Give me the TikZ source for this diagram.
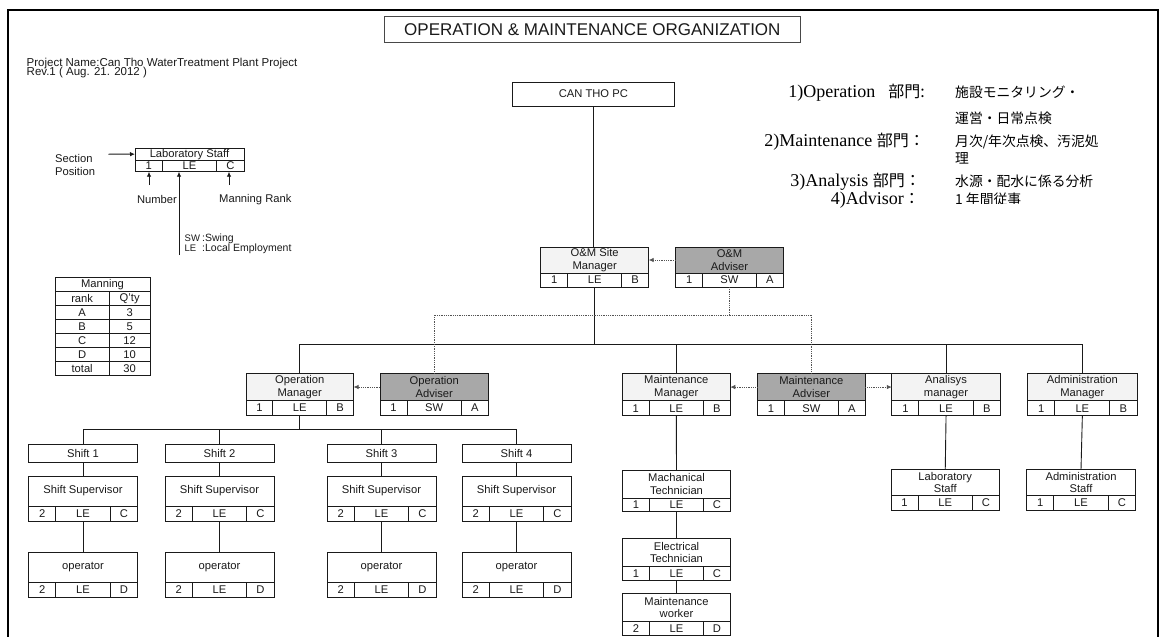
\documentclass[tikz,border=0pt]{standalone}
\usepackage{fontspec}
\setmainfont{Liberation Sans}
\newfontfamily\jpfont{Noto Sans CJK JP}
\newfontfamily\romfont{Liberation Serif}
\usetikzlibrary{arrows.meta}

\definecolor{ink}{HTML}{1A1A1A}
\definecolor{pale}{HTML}{F3F3F3}
\definecolor{advgray}{HTML}{A8A8A8}

\tikzset{
  box/.style={draw=ink, line width=1pt, inner sep=0pt, outer sep=0pt,
    text=ink, font=\fontsize{11.2}{12.5}\selectfont, align=center},
  titlecell/.style={box, anchor=north west},
  rowcell/.style={box, anchor=north west, fill=white},
  plainfill/.style={fill=pale},
  whitefill/.style={fill=white},
  advfill/.style={fill=advgray},
  link/.style={draw=ink, line width=0.9pt},
  adv/.style={draw=ink!75, line width=0.8pt, densely dotted},
  advarrow/.style={adv, -{Latex[length=5pt,width=4.5pt]}},
  legarrow/.style={link, -{Latex[length=5pt,width=4.5pt]}},
  lbl/.style={text=ink, inner sep=0pt, font=\fontsize{11.2}{12}\selectfont},
  jplbl/.style={text=black, inner sep=0pt},
}

% staff box: title part above a row of three cells (number | type | rank)
% #1 name, #2 north-west corner, #3 width, #4 title height,
% #5 fill style, #6 title, #7 number, #8 type, #9 rank
\def\rowh{15}
\newcommand\staffbox[9]{%
  \node[titlecell, #5, minimum width=#3, minimum height=#4] (#1) at #2 {#6};
  \node[rowcell, minimum width=#3/4, minimum height=\rowh] (#1-n) at (#1.south west) {#7};
  \node[rowcell, minimum width=#3/2, minimum height=\rowh] (#1-t) at (#1-n.north east) {#8};
  \node[rowcell, minimum width=#3/4, minimum height=\rowh] (#1-r) at (#1-t.north east) {#9};
}

\begin{document}
\begin{tikzpicture}[x=1pt, y=-1pt]
\useasboundingbox (0,0) rectangle (1162,637);
\fill[white] (0,0) rectangle (1162,637);

% outer frame
\draw[line width=2pt, black] (8,645) -- (8,10) -- (1158,10) -- (1158,645);

% heading
\node[box, anchor=north west, draw=ink!80, minimum width=416.7, minimum height=26.7,
  font=\fontsize{17}{17}\selectfont] (title) at (384,16)
  {OPERATION \& MAINTENANCE ORGANIZATION};

\node[lbl, anchor=base west, font=\fontsize{11.5}{12}\selectfont] (proj) at (26.5,66) {Project Name:Can Tho WaterTreatment Plant Project};
\node[lbl, anchor=base west, font=\fontsize{11.5}{12}\selectfont] (rev) at (26.5,75.5) {Rev.1 ( Aug. 21. 2012 )};

% notes on the sections
\newcommand\secname[2]{{\fontsize{18}{18}\romfont #1\jpfont\fontsize{16}{16}\selectfont #2}}
\node[jplbl, anchor=base east] (n1) at (925,97) {\secname{1)Operation\hspace{13pt}}{部門:}};
\node[jplbl, anchor=base east] (n2) at (925,146) {\secname{2)Maintenance }{部門：}};
\node[jplbl, anchor=base east] (n3) at (921,186) {\secname{3)Analysis }{部門：}};
\node[jplbl, anchor=base east] (n4) at (920,204) {\secname{4)Advisor}{：}};
\begin{scope}[every node/.style={jplbl, anchor=base west, font=\jpfont\fontsize{13.8}{14}\selectfont}]
\node (d1a) at (955,97) {施設モニタリング・};
\node (d1b) at (955,123.5) {運営・日常点検};
\node (d2a) at (955,146) {月次/年次点検、汚泥処};
\node (d2b) at (955,163) {理};
\node (d3) at (955,186) {水源・配水に係る分析};
\end{scope}
\begin{scope}
\clip (940,185) rectangle (1160,203.5);
\node[jplbl, anchor=base west, font=\jpfont\fontsize{13.8}{14}\selectfont] (d4) at (955,204) {1 年間従事};
\end{scope}

% legend for the staff boxes
\begingroup
\def\rowh{11.7}
\staffbox{lab}{(135,148.3)}{109}{11.7}{whitefill}{Laboratory Staff}{1}{LE}{C}
\endgroup
\node[lbl, anchor=west] (sec) at (55,158) {Section};
\node[lbl, anchor=west] (pos) at (55,171) {Position};
\coordinate (secA) at (108.3,154.2);
\draw[legarrow] (secA) -- (lab.west);
\coordinate (numA) at (149,185);
\coordinate (typA) at (179,255);
\coordinate (rnkA) at (229,185);
\draw[legarrow] (numA) -- (numA |- lab-n.south);
\draw[legarrow] (typA) -- (typA |- lab-t.south);
\draw[legarrow] (rnkA) -- (rnkA |- lab-r.south);
\node[lbl, anchor=center] (numl) at (157,199.5) {Number};
\node[lbl, anchor=west] (rnkl) at (219,199.5) {Manning Rank};
\begin{scope}[every node/.style={lbl, anchor=west, font=\fontsize{10.5}{11}\selectfont}]
\node[font=\fontsize{9.5}{10}\selectfont] (sw) at (184.5,238.3) {SW};
\node (swd) at (202,238.3) {:Swing};
\node[font=\fontsize{9.5}{10}\selectfont] (le) at (184.5,248.5) {LE};
\node (led) at (202,248.5) {:Local Employment};
\end{scope}

% manning table
\begin{scope}[every node/.style={box, anchor=north west, fill=white, minimum height=14}]
\node[minimum width=95] (mh) at (55,277.3) {Manning};
\node[minimum width=54.3] (r0a) at (mh.south west) {rank};
\node[minimum width=40.7] (r0b) at (r0a.north east) {Q'ty};
\node[minimum width=54.3] (r1a) at (r0a.south west) {A};
\node[minimum width=40.7] (r1b) at (r1a.north east) {3};
\node[minimum width=54.3] (r2a) at (r1a.south west) {B};
\node[minimum width=40.7] (r2b) at (r2a.north east) {5};
\node[minimum width=54.3] (r3a) at (r2a.south west) {C};
\node[minimum width=40.7] (r3b) at (r3a.north east) {12};
\node[minimum width=54.3] (r4a) at (r3a.south west) {D};
\node[minimum width=40.7] (r4b) at (r4a.north east) {10};
\node[minimum width=54.3] (r5a) at (r4a.south west) {total};
\node[minimum width=40.7] (r5b) at (r5a.north east) {30};
\end{scope}

% top of the organisation
\node[box, anchor=north west, fill=white, minimum width=161.3, minimum height=24] (pc) at (512.7,82) {CAN THO PC};

\def\rowh{14}
\staffbox{om}{(540.7,247)}{108}{26}{plainfill}{O\&M Site\\Manager}{1}{LE}{B}
\staffbox{oma}{(675.7,247)}{107.6}{26}{advfill}{O\&M\\Adviser}{1}{SW}{A}

% managers
\def\rowh{15}
\staffbox{opm}{(246,373.5)}{107.5}{27}{plainfill}{Operation\\Manager}{1}{LE}{B}
\staffbox{opa}{(380,373.5)}{108.5}{27}{advfill}{Operation\\Adviser}{1}{SW}{A}
\staffbox{mtm}{(622.3,373.3)}{108}{27.5}{plainfill}{Maintenance\\Manager}{1}{LE}{B}
\staffbox{mta}{(757.4,373.3)}{108}{27.5}{advfill}{Maintenance\\Adviser}{1}{SW}{A}
\staffbox{anm}{(891.8,373.3)}{108.5}{27.5}{plainfill}{Analisys\\manager}{1}{LE}{B}
\staffbox{adm}{(1027.6,373.3)}{109.5}{27.5}{plainfill}{Administration\\Manager}{1}{LE}{B}

% shifts
\begin{scope}[every node/.style={box, anchor=north west, fill=white, minimum width=109, minimum height=18}]
\node (s1) at (28.5,444) {Shift 1};
\node (s2) at (165,444) {Shift 2};
\node (s3) at (327,444) {Shift 3};
\node (s4) at (462,444) {Shift 4};
\end{scope}
\staffbox{sv1}{(28.5,476)}{109}{30}{whitefill}{Shift Supervisor}{2}{LE}{C}
\staffbox{sv2}{(165,476)}{109}{30}{whitefill}{Shift Supervisor}{2}{LE}{C}
\staffbox{sv3}{(327,476)}{109}{30}{whitefill}{Shift Supervisor}{2}{LE}{C}
\staffbox{sv4}{(462,476)}{109}{30}{whitefill}{Shift Supervisor}{2}{LE}{C}
\def\rowh{15.5}
\staffbox{op1}{(28.5,552)}{109}{30}{whitefill}{operator}{2}{LE}{D}
\staffbox{op2}{(165,552)}{109}{30}{whitefill}{operator}{2}{LE}{D}
\staffbox{op3}{(327,552)}{109}{30}{whitefill}{operator}{2}{LE}{D}
\staffbox{op4}{(462,552)}{109}{30}{whitefill}{operator}{2}{LE}{D}

% maintenance staff
\def\rowh{13.5}
\staffbox{mch}{(622.5,470)}{108}{28}{whitefill}{Machanical\\Technician}{1}{LE}{C}
\staffbox{ele}{(622.5,538.5)}{108}{28}{whitefill}{Electrical\\Technician}{1}{LE}{C}
\staffbox{wrk}{(622.5,593.5)}{108}{28}{whitefill}{Maintenance\\worker}{2}{LE}{D}

% analysis and administration staff
\def\rowh{15}
\staffbox{lbs}{(891,469.5)}{108.5}{26}{whitefill}{Laboratory\\Staff}{1}{LE}{C}
\staffbox{ads}{(1026.5,469.5)}{109}{26}{whitefill}{Administration\\Staff}{1}{LE}{C}

% line of command
\coordinate (busS) at (0,344);
\coordinate (busD) at (0,315);
\coordinate (busO) at (0,429);
\draw[link] (pc.south) -- (pc.south |- om.north);
\draw[link] (om-t.south) -- (om-t.south |- busS);
\draw[link] (opm.north |- busS) -- (adm.north |- busS);
\draw[link] (opm.north |- busS) -- (opm.north);
\draw[link] (mtm.north |- busS) -- (mtm.north);
\draw[link] (anm.north |- busS) -- (anm.north);
\draw[link] (adm.north |- busS) -- (adm.north);
\draw[link] (mta.north east) -- (anm.north west);

% advisory lines
\draw[adv] (oma-t.south) -- (oma-t.south |- busD);
\draw[adv] (opa.north) -- (opa.north |- busD) -- (mta.north |- busD) -- (mta.north);
\draw[advarrow] (oma.west) -- (om.east);
\draw[advarrow] (opa.west) -- (opm.east);
\draw[advarrow] (mta.west) -- (mtm.east);
\draw[advarrow] (mta.east) -- (anm.west);

% operation branch
\draw[link] (opm-t.south) -- (opm-t.south |- busO);
\draw[link] (s1.north |- busO) -- (s4.north |- busO);
\foreach \k in {1,2,3,4}{
  \draw[link] (s\k.north |- busO) -- (s\k.north);
  \draw[link] (s\k.south) -- (sv\k.north);
  \draw[link] (sv\k-t.south) -- (op\k.north);
}

% maintenance, analysis and administration branches
\draw[link] (mtm-t.south) -- (mch.north);
\draw[link] (mch-t.south) -- (ele.north);
\draw[link] (ele-t.south) -- (wrk.north);
\draw[link] (anm-t.south) -- (lbs.north);
\draw[link] (adm-t.south) -- (ads.north);
\end{tikzpicture}
\end{document}
